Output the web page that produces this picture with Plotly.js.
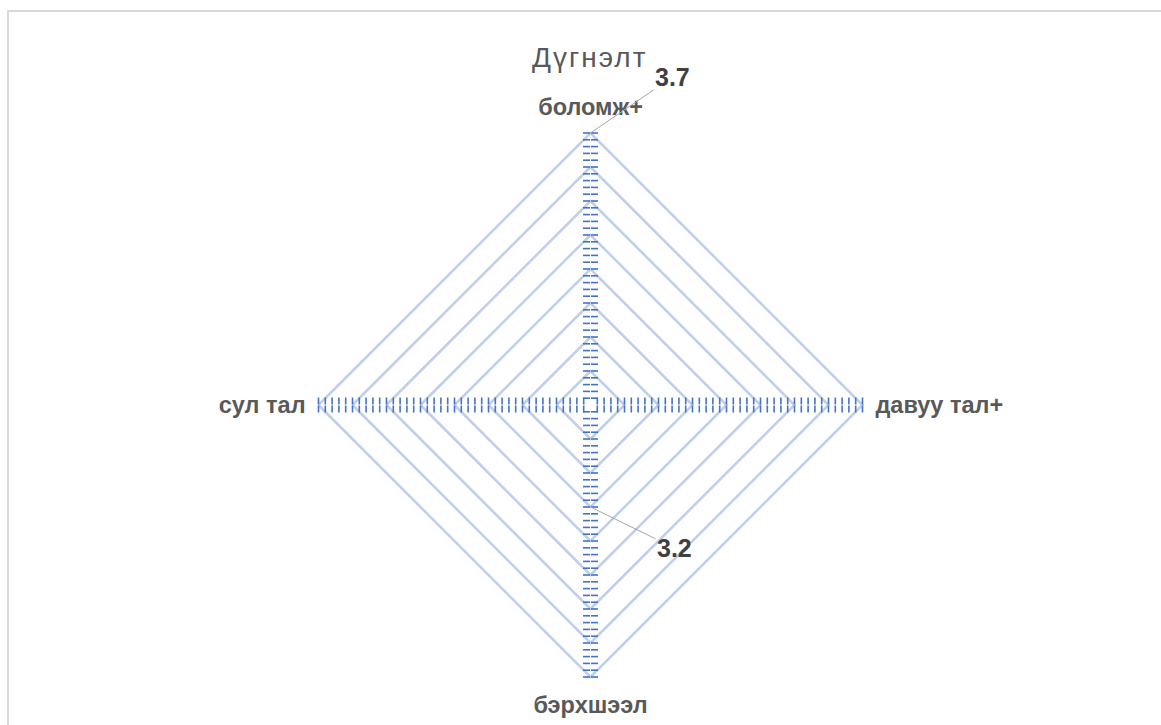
<!DOCTYPE html>
<html>
<head>
<meta charset="utf-8">
<script src="https://cdn.plot.ly/plotly-3.0.1.min.js"></script>
<style>
  html, body { margin: 0; padding: 0; background: #ffffff; overflow: hidden; }
  #chart { position: absolute; left: 0; top: 0; width: 1161px; height: 725px; }
  #frame { position: absolute; left: 7px; top: 10px; width: 1200px; height: 800px;
           border: 2px solid #d9d9d9; pointer-events: none; }
  #chart .gtitle { letter-spacing: 2px; }
</style>
</head>
<body>
<div id="chart"></div>
<div id="frame"></div>
<script>
// ---- data ----
const categories = ['боломж+', 'давуу тал+', 'бэрхшээл', 'сул тал'];
const values = [3.7, 2.9, 3.2, 2.9];
const labelledCategories = ['боломж+', 'бэрхшээл'];
const chartTitle = 'Дүгнэлт';
const radialRange = [2.9, 3.7];
const majorStep = 0.1;
const minorStep = 0.02;
const spokeAngles = [90, 0, 270, 180];

// ---- styles ----
const labelFont = 'Liberation Sans, Arial, sans-serif';
const ringColor = 'rgba(143,170,220,0.58)';
const tickColor = '#4472c4';

// minor tick positions along each spoke (skipping the centre)
const minorTicks = [];
for (let k = 1; radialRange[0] + k * minorStep <= radialRange[1] + 1e-9; k++) {
  minorTicks.push(+(radialRange[0] + k * minorStep).toFixed(4));
}

function angular(extra) {
  return Object.assign({
    type: 'category',
    categoryarray: categories.slice(),
    categoryorder: 'array',
    rotation: 90,
    direction: 'clockwise'
  }, extra);
}

const traces = [{
  type: 'scatterpolar',
  subplot: 'polar',
  r: values.slice(),
  theta: categories.slice(),
  mode: 'markers',
  marker: { size: 8, opacity: 0 },
  hoverinfo: 'skip',
  showlegend: false
}];

const layout = {
  width: 1161,
  height: 725,
  paper_bgcolor: '#ffffff',
  showlegend: false,
  margin: { l: 318, r: 298, t: 133, b: 48 },
  title: {
    text: chartTitle,
    font: { family: labelFont, size: 28, color: '#595959' },
    xref: 'container', yref: 'container',
    x: 0.508, y: 0.921, xanchor: 'center', yanchor: 'middle'
  },
  polar: {
    domain: { x: [0, 1], y: [0, 1] },
    bgcolor: 'rgba(0,0,0,0)',
    gridshape: 'linear',
    angularaxis: angular({
      showline: true,
      linecolor: ringColor,
      linewidth: 2.5,
      showgrid: false,
      ticks: 'outside',
      ticklen: 7,
      tickcolor: 'rgba(0,0,0,0)',
      tickfont: { family: labelFont, size: 23.5, color: '#595959', weight: 'bold' }
    }),
    radialaxis: {
      range: radialRange.slice(),
      autorange: false,
      tickmode: 'linear',
      tick0: radialRange[0],
      dtick: majorStep,
      showline: false,
      ticks: '',
      showticklabels: false,
      showgrid: true,
      gridcolor: ringColor,
      gridwidth: 2.5,
      angle: 90
    }
  }
};

// extra transparent subplots: tick marks on every spoke, both sides of the spoke
let n = 2;
spokeAngles.forEach(function (ang) {
  ['clockwise', 'counterclockwise'].forEach(function (side) {
    const id = 'polar' + n;
    layout[id] = {
      domain: { x: [0, 1], y: [0, 1] },
      bgcolor: 'rgba(0,0,0,0)',
      gridshape: 'linear',
      angularaxis: angular({ visible: false }),
      radialaxis: {
        range: radialRange.slice(),
        autorange: false,
        angle: ang,
        side: side,
        tickmode: 'array',
        tickvals: minorTicks.slice(),
        ticks: 'outside',
        ticklen: 7,
        tickwidth: 1.6,
        tickcolor: tickColor,
        showticklabels: false,
        showgrid: false,
        showline: false
      }
    };
    traces.push({
      type: 'scatterpolar',
      subplot: id,
      r: values.slice(),
      theta: categories.slice(),
      mode: 'markers',
      marker: { size: 1, opacity: 0 },
      hoverinfo: 'skip',
      showlegend: false
    });
    n++;
  });
});

const gd = document.getElementById('chart');
Plotly.newPlot(gd, traces, layout, { staticPlot: true, displayModeBar: false }).then(function () {
  const offsets = { 'боломж+': [82, -56], 'бэрхшээл': [84, 41] };
  const g = gd.querySelector('g.polar');
  if (!g) return;
  const pts = g.querySelectorAll('.scatterlayer .trace .points path.point');
  const gr = gd.getBoundingClientRect();
  const s = gd._fullLayout._size;
  const annotations = [];
  pts.forEach(function (p, k) {
    const idx = (p.__data__ && typeof p.__data__.i === 'number') ? p.__data__.i : k;
    const cat = categories[idx];
    if (labelledCategories.indexOf(cat) < 0) return;
    const b = p.getBoundingClientRect();
    const px = b.left + b.width / 2 - gr.left;
    const py = b.top + b.height / 2 - gr.top;
    const off = offsets[cat] || [60, -40];
    annotations.push({
      xref: 'paper', yref: 'paper',
      x: (px - s.l) / s.w,
      y: 1 - (py - s.t) / s.h,
      text: String(values[idx]),
      font: { family: labelFont, size: 25, color: '#404040', weight: 'bold' },
      showarrow: true,
      arrowhead: 0,
      arrowwidth: 1,
      arrowcolor: '#a6a6a6',
      ax: off[0],
      ay: off[1],
      standoff: 0
    });
  });
  Plotly.relayout(gd, { annotations: annotations });
});
</script>
</body>
</html>
